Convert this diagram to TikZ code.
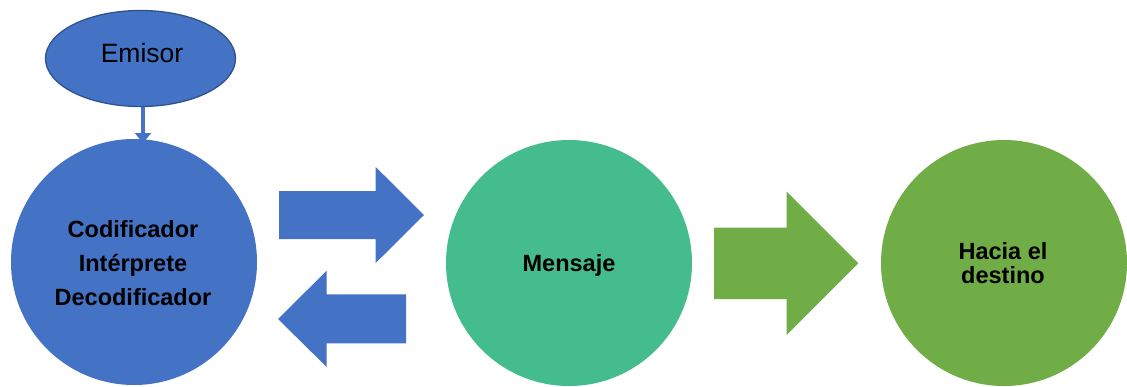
\documentclass[tikz,border=0pt]{standalone}
\usepackage{fontspec}
\setmainfont{Liberation Sans}
\usetikzlibrary{arrows.meta,shapes.geometric}
\definecolor{cblue}{HTML}{4472C4}
\definecolor{cdblue}{HTML}{2F528F}
\definecolor{cteal}{HTML}{44BC8E}
\definecolor{cgreen}{HTML}{70AD47}
\tikzset{
  bigcirc/.style={circle,minimum size=246pt,inner sep=0pt},
  lbl/.style={anchor=base,inner sep=0pt,font=\fontsize{23.5}{24}\selectfont\bfseries}
}
\begin{document}
\begin{tikzpicture}[x=1pt,y=-1pt]
\useasboundingbox (0,0) rectangle (1127,386);
% Emisor
\node[ellipse,fill=cblue,draw=cdblue,line width=1.3pt,minimum width=190pt,minimum height=96pt,inner sep=0pt] (emisor) at (140.5,58.5) {};
\node[anchor=base,inner sep=0pt,font=\fontsize{26.5}{28}\selectfont] (emisortxt) at (142,62.3) {Emisor};
% circles
\node[bigcirc,fill=cblue] (cod) at (134,262) {};
\node[bigcirc,fill=cteal] (msg) at (569,263) {};
\node[bigcirc,fill=cgreen] (dest) at (1004,263) {};
% connector
\draw[cblue,line width=3.2pt,-{Triangle[width=16pt,length=10pt]}] (emisor.south -| 143,0) -- (143,143) coordinate (codtop);
% labels
\node[lbl] (l1) at (133,237.3) {Codificador};
\node[lbl] (l2) at (133,271.7) {Intérprete};
\node[lbl] (l3) at (133,305.7) {Decodificador};
\node[lbl] (l4) at (569,271.5) {Mensaje};
\node[lbl] (l5) at (1003,259) {Hacia el};
\node[lbl] (l6) at (1003,283) {destino};
% block arrows
\fill[cblue] (279,191) -- (375.7,191) -- (375.7,167) -- (424,215) -- (375.7,263) -- (375.7,239) -- (279,239) -- cycle;
\fill[cblue] (406,294.3) -- (326.7,294.3) -- (326.7,270.7) -- (278,319) -- (326.7,367) -- (326.7,343.3) -- (406,343.3) -- cycle;
\fill[cgreen] (714,227.7) -- (786.7,227.7) -- (786.7,191.7) -- (858.3,263.3) -- (786.7,335) -- (786.7,299) -- (714,299) -- cycle;
\end{tikzpicture}
\end{document}
